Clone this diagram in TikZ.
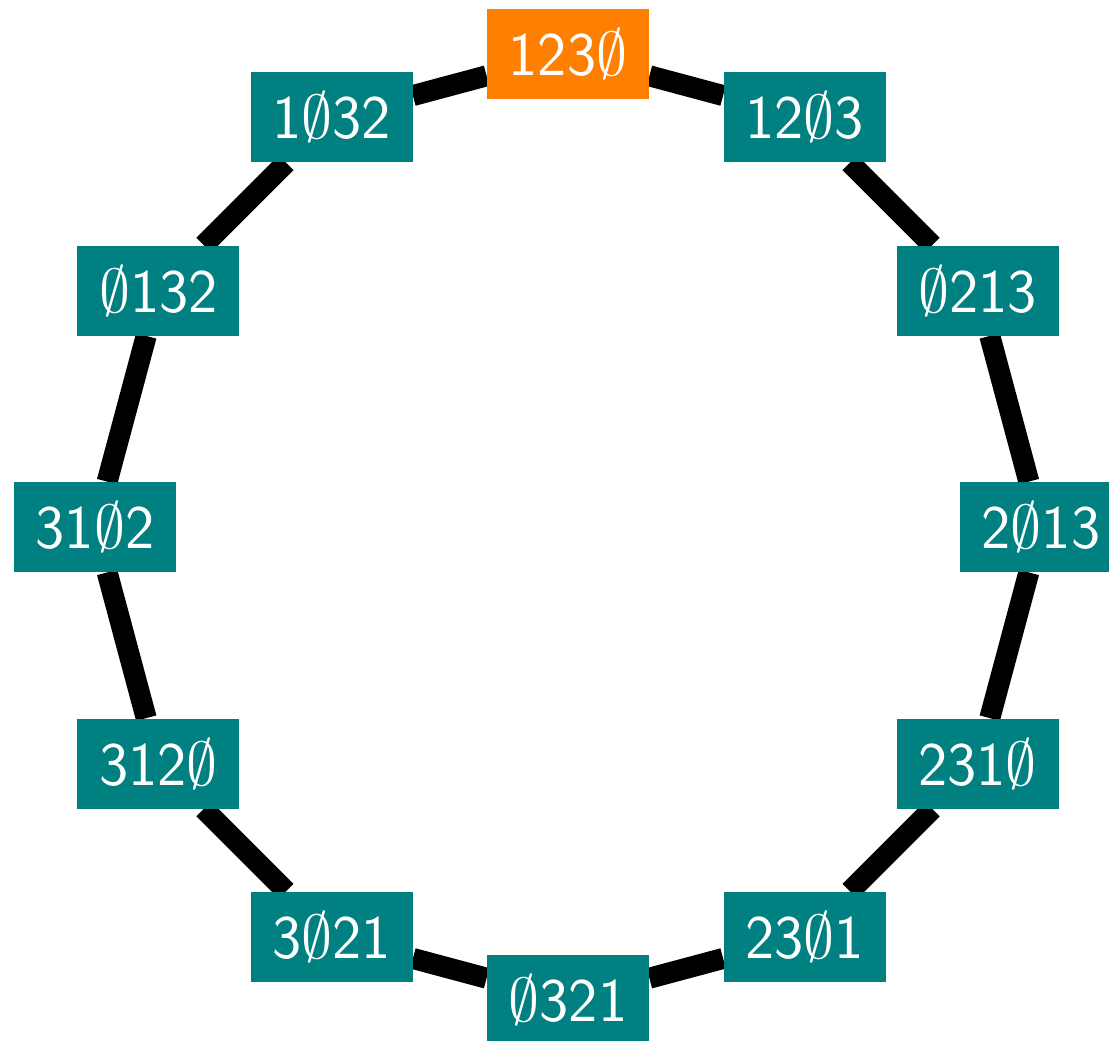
\RequirePackage{fix-cm}
\documentclass[tikz,border=0pt]{standalone}
\usetikzlibrary{backgrounds,calc}
\tikzset{
  state/.style={fill=teal, text=white, inner sep=0pt, minimum width=81pt,
    minimum height=45pt, font=\fontsize{31}{31}\selectfont\sffamily},
  start/.style={state, fill=orange},
  link/.style={line width=10.5pt, draw=black}
}
\newcommand{\es}{$\emptyset$}
\begin{document}
\begin{tikzpicture}[x=0.5pt, y=0.5pt]
  \useasboundingbox (0,0) rectangle (1109,-1040);
  \coordinate (c) at (568,-527);
  % twelve states on a regular dodecagon, clockwise from the top
  \node[start] (s0)  at ($(c)+(90:473)$)  {123\es};
  \node[state] (s1)  at ($(c)+(60:473)$)  {12\es3};
  \node[state] (s2)  at ($(c)+(30:473)$)  {\es213};
  \node[state] (s3)  at ($(c)+(0:473)$)   {2\es13};
  \node[state] (s4)  at ($(c)+(-30:473)$) {231\es};
  \node[state] (s5)  at ($(c)+(-60:473)$) {23\es1};
  \node[state] (s6)  at ($(c)+(-90:473)$) {\es321};
  \node[state] (s7)  at ($(c)+(-120:473)$) {3\es21};
  \node[state] (s8)  at ($(c)+(-150:473)$) {312\es};
  \node[state] (s9)  at ($(c)+(180:473)$) {31\es2};
  \node[state] (s10) at ($(c)+(150:473)$) {\es132};
  \node[state] (s11) at ($(c)+(120:473)$) {1\es32};
  \begin{pgfonlayer}{background}
    \foreach \a/\b in {0/1,1/2,2/3,3/4,4/5,5/6,6/7,7/8,8/9,9/10,10/11,11/0}
      \draw[link] (s\a) -- (s\b);
  \end{pgfonlayer}
\end{tikzpicture}
\end{document}
